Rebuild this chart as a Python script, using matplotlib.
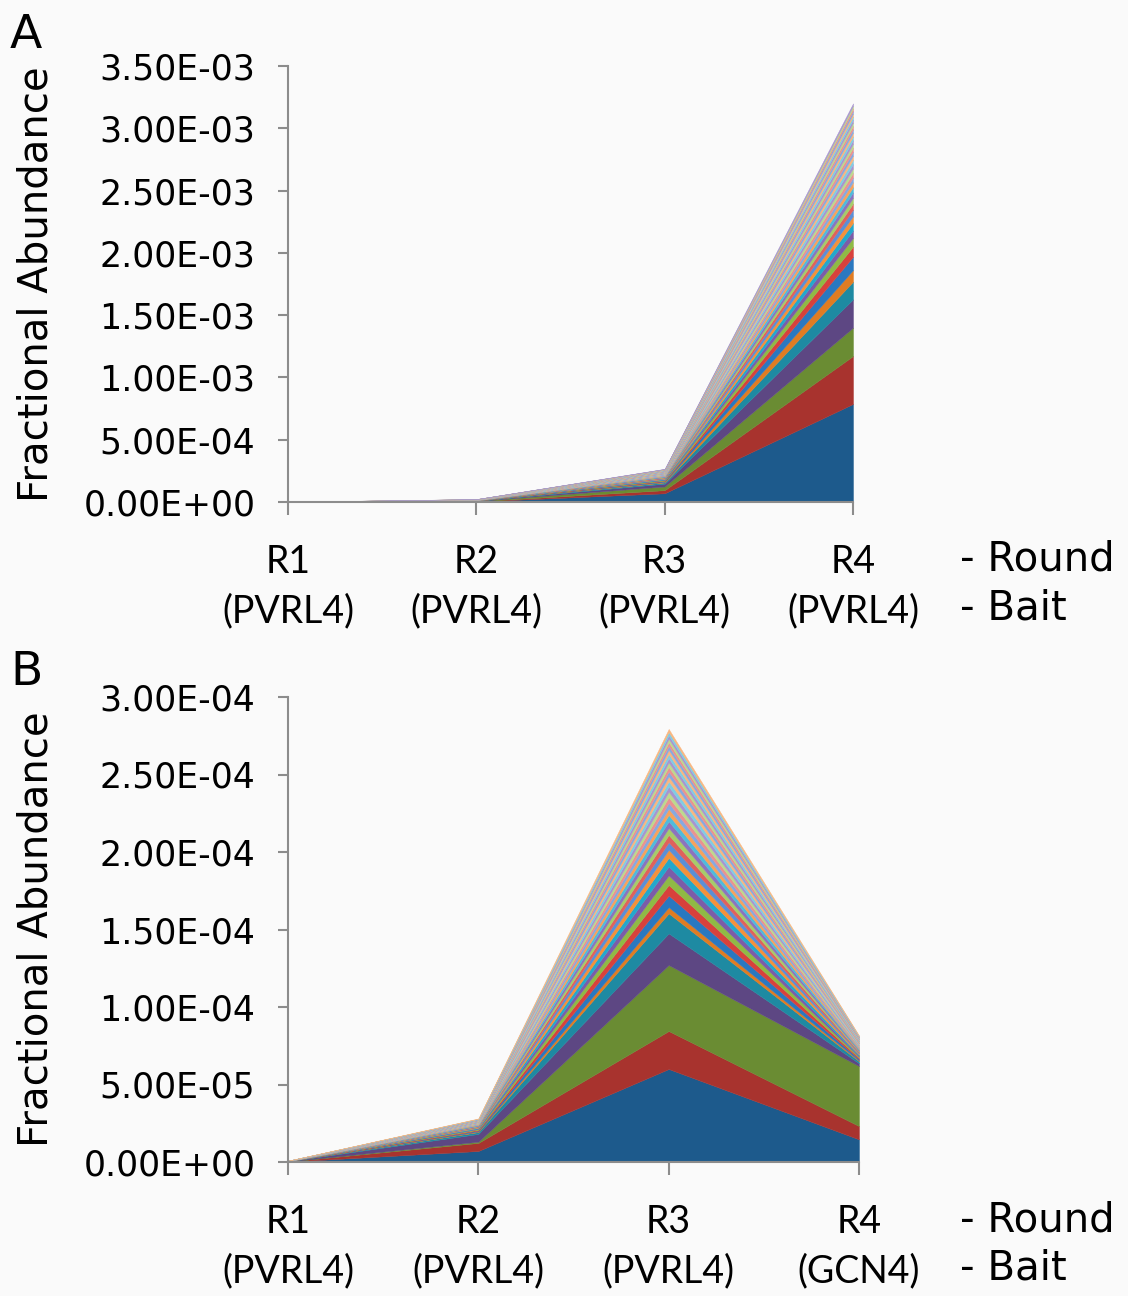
import numpy as np
import matplotlib
matplotlib.use("Agg")
import matplotlib.pyplot as plt
from matplotlib.transforms import offset_copy
from matplotlib.ticker import FuncFormatter

# Fractional abundance of clones per selection round (values in units of 1e-5)
rounds = ["R1", "R2", "R3", "R4"]
baits_a = ["(PVRL4)", "(PVRL4)", "(PVRL4)", "(PVRL4)"]
baits_b = ["(PVRL4)", "(PVRL4)", "(PVRL4)", "(GCN4)"]

# panel A: clones ranked by R4 abundance
a_r1 = [0.04, 0.01, 0.02, 0.01, 0.01, 0.005, 0.01, 0.005, 0.005, 0.005,
        0.005, 0.004, 0.004, 0.005, 0.004, 0.004, 0.003, 0.004, 0.004, 0.003,
        0.004, 0.003, 0.003, 0.004, 0.003, 0.003, 0.004, 0.003, 0.003, 0.003,
        0.003, 0.003, 0.003, 0.003, 0.002, 0.003, 0.003, 0.002, 0.003, 0.002]
a_r2 = [0.40, 0.10, 0.30, 0.15, 0.10, 0.05, 0.08, 0.05, 0.06, 0.05,
        0.05, 0.04, 0.04, 0.05, 0.04, 0.04, 0.03, 0.04, 0.04, 0.03,
        0.04, 0.03, 0.03, 0.04, 0.03, 0.03, 0.04, 0.03, 0.03, 0.03,
        0.03, 0.03, 0.03, 0.03, 0.02, 0.03, 0.03, 0.02, 0.03, 0.02]
a_r3 = [7.0, 2.5, 3.0, 2.2, 1.0, 0.5, 0.6, 0.4, 0.5, 0.4,
        0.45, 0.40, 0.38, 0.42, 0.35, 0.36, 0.31, 0.38, 0.32, 0.29,
        0.33, 0.28, 0.30, 0.26, 0.29, 0.25, 0.30, 0.26, 0.23, 0.27,
        0.24, 0.21, 0.25, 0.22, 0.20, 0.23, 0.21, 0.19, 0.20, 0.18]
a_r4 = [78.7, 38.5, 22.8, 22.7, 14.2, 9.3, 10.7, 8.1, 7.0, 6.0,
        6.0, 5.5, 5.2, 4.9, 4.6, 4.4, 4.2, 4.0, 3.8, 3.7,
        3.6, 3.5, 3.4, 3.3, 3.2, 3.2, 3.1, 3.0, 3.0, 2.9,
        2.8, 2.7, 2.6, 2.5, 2.4, 2.3, 2.2, 2.1, 2.0, 1.9]

# panel B: clones ranked by R3 abundance, R4 against GCN4
b_r1 = [0.02, 0.01, 0.005, 0.01, 0.005, 0.002,
        0.002, 0.002, 0.002, 0.001, 0.001, 0.001, 0.001, 0.001, 0.001, 0.001,
        0.001, 0.001, 0.001, 0.001, 0.001, 0.001, 0.001, 0.001, 0.001, 0.001,
        0.001, 0.001, 0.001, 0.001, 0.001, 0.001, 0.001, 0.001, 0.001, 0.001]
b_r2 = [0.71, 0.52, 0.08, 0.50, 0.12, 0.04,
        0.06, 0.05, 0.05, 0.04, 0.04, 0.04, 0.03, 0.03, 0.03, 0.03,
        0.03, 0.03, 0.03, 0.02, 0.03, 0.02, 0.02, 0.02, 0.02, 0.02,
        0.02, 0.02, 0.02, 0.02, 0.02, 0.02, 0.02, 0.02, 0.02, 0.02]
b_r3 = [6.0, 2.45, 4.26, 2.04, 1.29, 0.40,
        0.75, 0.68, 0.62, 0.58, 0.55, 0.52, 0.49, 0.47, 0.45, 0.43,
        0.41, 0.40, 0.38, 0.37, 0.35, 0.34, 0.33, 0.32, 0.31, 0.30,
        0.29, 0.28, 0.27, 0.26, 0.25, 0.24, 0.23, 0.22, 0.21, 0.20]
b_r4 = [1.46, 0.86, 3.87, 0.18, 0.13, 0.05,
        0.09, 0.08, 0.07, 0.07, 0.06, 0.07, 0.06, 0.06, 0.05, 0.06,
        0.05, 0.06, 0.05, 0.05, 0.06, 0.05, 0.05, 0.05, 0.04, 0.05,
        0.05, 0.04, 0.05, 0.04, 0.04, 0.05, 0.04, 0.04, 0.04, 0.04]

# excel-like series colours, 6 hues getting lighter each cycle
shades = [
    ["#1d5a8c", "#a8332e", "#6a8c33", "#5d4783", "#1e8aa2", "#e07c22"],
    ["#2a78c0", "#d8413c", "#8fba45", "#7c5ca8", "#23a8cc", "#f4913a"],
    ["#5b8fd6", "#e0615c", "#a6cc6a", "#8c73bd", "#4fbbdb", "#f7a25c"],
    ["#86a9e0", "#ea9290", "#bcd98e", "#a894cf", "#80cde3", "#f9b67f"],
]

BG = "#fafafa"
AXC = "#8c8c8c"
W, H = 1128, 1296

fig = plt.figure(figsize=(W / 100, H / 100), dpi=100, facecolor=BG)


def panel(box, cols, ymax, ystep, baits, letter, letter_y, ylab_y, rb_y):
    ax = fig.add_axes(box, facecolor=BG)
    layers = np.array(cols).T * 1e-5
    x = np.arange(len(rounds))
    colors = [shades[min(i // 6, 3)][i % 6] for i in range(len(layers))]
    ax.stackplot(x, layers, colors=colors, lw=0.3, edgecolor="face")

    ax.set_xlim(0, 3)
    ax.set_ylim(0, ymax)
    ax.set_yticks(np.arange(0, ymax + ystep / 2, ystep))
    ax.yaxis.set_major_formatter(FuncFormatter(lambda v, _: f"{v:.2E}"))
    ax.set_xticks(x)
    ax.set_xticklabels([])
    for s in ["top", "right"]:
        ax.spines[s].set_visible(False)
    for s in ["left", "bottom"]:
        ax.spines[s].set_color(AXC)
        ax.spines[s].set_linewidth(1.5)
    ax.tick_params(axis="y", length=7.5, width=1.5, color=AXC, pad=16,
                   labelsize=25)
    ax.tick_params(axis="x", length=9.5, width=1.5, color=AXC)

    # two-line category labels under each tick
    t1 = offset_copy(ax.get_xaxis_transform(), fig=fig, y=-60, units="dots")
    t2 = offset_copy(ax.get_xaxis_transform(), fig=fig, y=-109, units="dots")
    for i in x:
        ax.text(i, 0, rounds[i], transform=t1, ha="center", va="center",
                fontsize=27, family="Lato")
        ax.text(i, 0, baits[i], transform=t2, ha="center", va="center",
                fontsize=27, family="Lato")

    fig.text(960 / W, 1 - rb_y / H, "- Round", ha="left", va="center", fontsize=29)
    fig.text(960 / W, 1 - (rb_y + 48) / H, "- Bait", ha="left", va="center", fontsize=29)
    fig.text(10 / W, 1 - letter_y / H, letter, ha="left", va="baseline", fontsize=34)
    fig.text(37 / W, 1 - ylab_y / H, "Fractional Abundance", rotation=90,
             ha="center", va="center", fontsize=29)
    return ax


panel([288 / W, 1 - 502 / H, 565 / W, 436 / H], [a_r1, a_r2, a_r3, a_r4],
      3.5e-3, 5e-4, baits_a, "A", 48, 284, 560)
panel([288 / W, 1 - 1162 / H, 571 / W, 465 / H], [b_r1, b_r2, b_r3, b_r4],
      3.0e-4, 5e-5, baits_b, "B", 685, 929, 1220)

fig.savefig("out.png", dpi=100, facecolor=BG)
